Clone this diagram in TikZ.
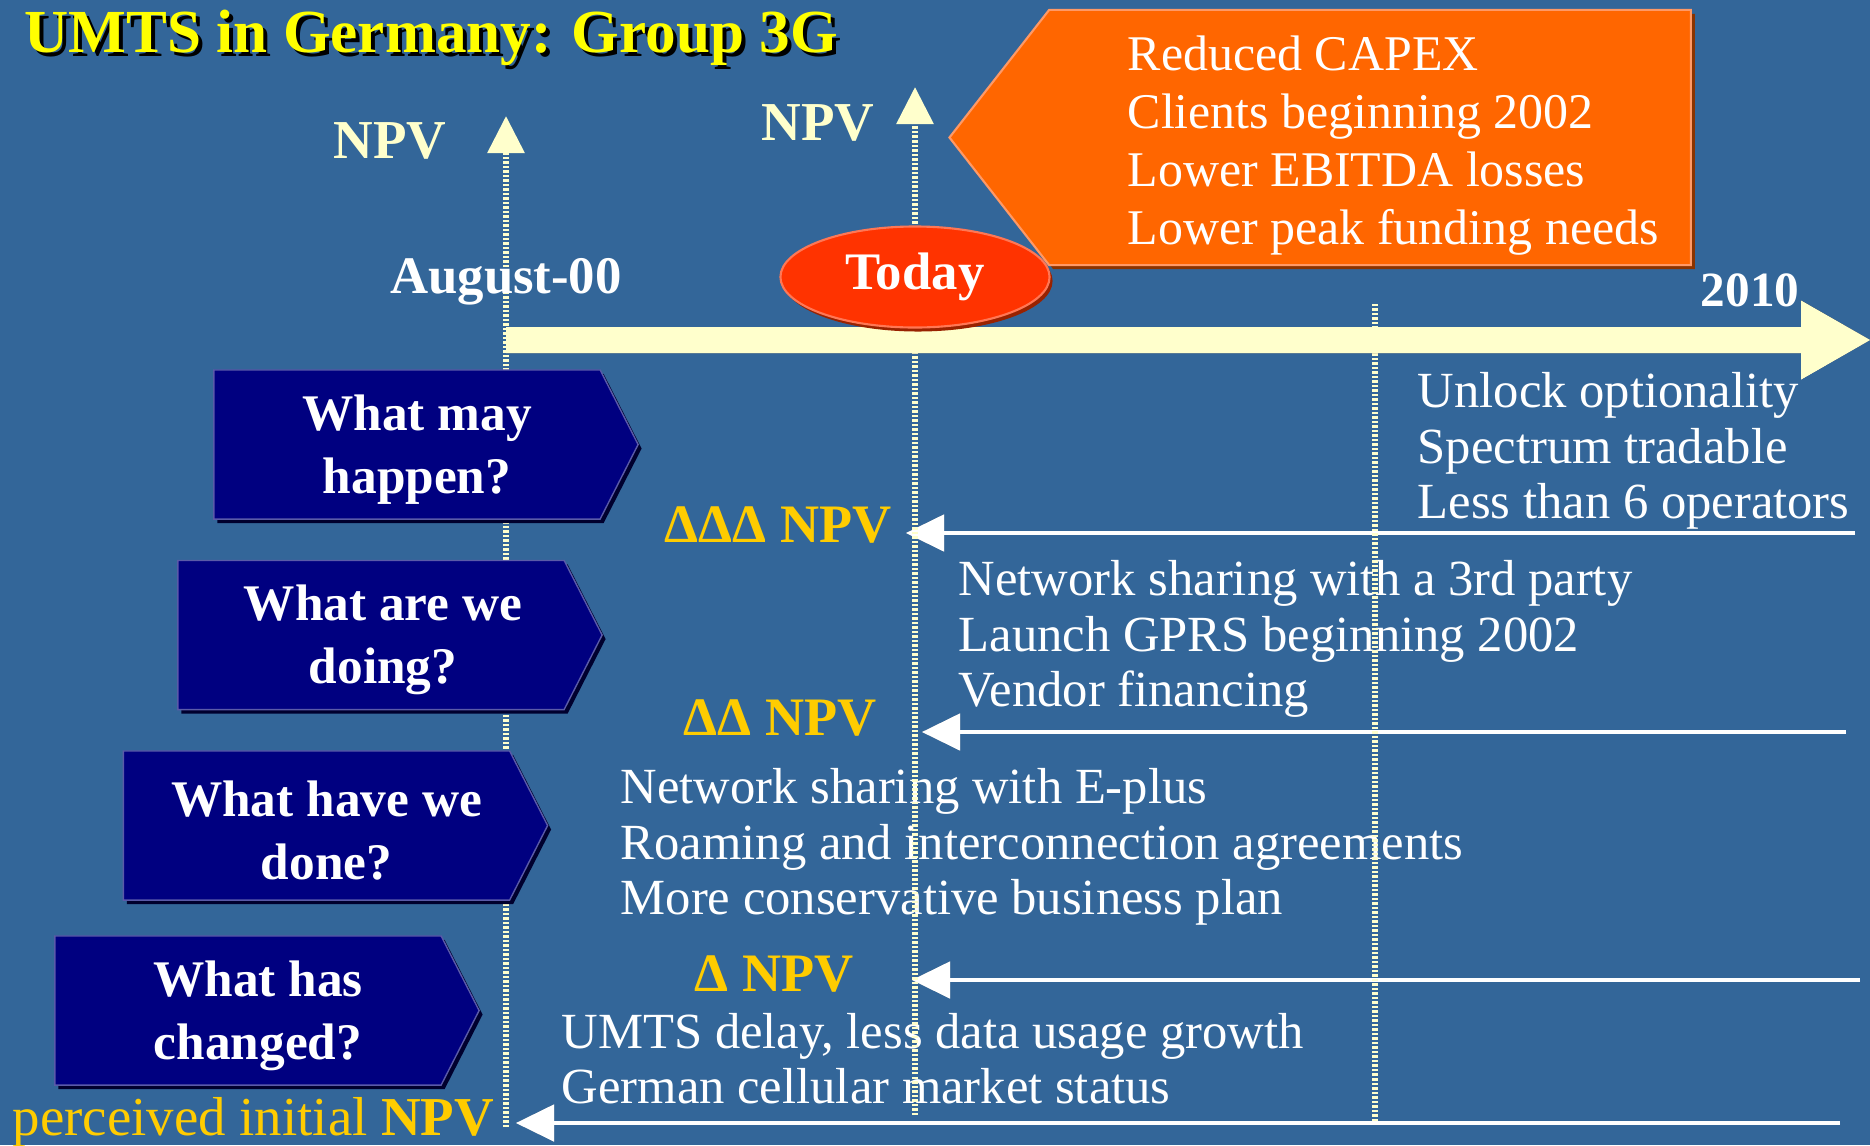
\documentclass[tikz,border=0pt]{standalone}
\usepackage{fontspec}
\setmainfont{Liberation Serif}
\usepackage{tikz}
\usetikzlibrary{calc,arrows.meta,positioning,shapes.geometric,shapes.symbols,shadows}
\definecolor{slide}{HTML}{336699}
\definecolor{cream}{HTML}{FFFFCC}
\definecolor{gold}{HTML}{FFCC00}
\definecolor{titley}{HTML}{FFFF00}
\definecolor{navy}{HTML}{000080}
\definecolor{navyd}{HTML}{00002E}
\definecolor{navyl}{HTML}{5A5AA8}
\definecolor{orng}{HTML}{FF6600}
\definecolor{orngd}{HTML}{8A3300}
\definecolor{orngl}{HTML}{FF9966}
\definecolor{todayc}{HTML}{FF3300}
\definecolor{todayd}{HTML}{992200}
\definecolor{todayl}{HTML}{FF7755}
\definecolor{shade}{HTML}{9A9A9A}
\tikzset{
  wtxt/.style={text=white,align=left,inner sep=0pt,font=\fontsize{14.4}{15.7}\selectfont},
  npvlab/.style={text=cream,inner sep=0pt,font=\fontsize{15.6}{18}\selectfont\bfseries},
  dlab/.style={text=gold,inner sep=0pt,font=\fontsize{15.4}{18}\selectfont\bfseries},
  qbox/.style={shape=signal,signal to=east,signal pointer angle=126,fill=navy,draw=navyl,line width=0.4pt,
    minimum width=4.24cm,minimum height=1.49cm,inner sep=0pt,
    drop shadow={shadow xshift=0.035cm,shadow yshift=-0.04cm,fill=navyd,opacity=1}},
  qtxt/.style={text=white,align=center,inner sep=0pt,font=\fontsize{14.6}{17.9}\selectfont\bfseries},
  dotln/.style={draw=cream,line width=0.06cm,dash pattern=on 0.025cm off 0.02cm},
  npvax/.style={dotln,-{Triangle[length=0.37cm,width=0.36cm,fill=cream]}},
  back/.style={-{Triangle[length=0.38cm,width=0.36cm]},draw=white,fill=white,line width=0.045cm},
  backsh/.style={back,draw=shade,fill=shade,shift={(3,4)}}
}

\begin{document}
\begin{tikzpicture}[x=0.01cm,y=-0.01cm]
\useasboundingbox (0,0) rectangle (1870,1145);
\fill[slide] (0,0) rectangle (1870,1145);
\node[anchor=base west,text=black,inner sep=0pt,font=\fontsize{17.4}{20}\selectfont\bfseries] (titlesh) at (28,56) {UMTS in Germany: Group 3G};
\node[anchor=base west,text=titley,inner sep=0pt,font=\fontsize{17.4}{20}\selectfont\bfseries] (title) at (24,52) {UMTS in Germany: Group 3G};

\node[wtxt,anchor=west] (unlock) at (1417,451) {Unlock optionality\\Spectrum tradable\\Less than 6 operators};
\node[wtxt,anchor=west] (doing) at (958,639) {Network sharing with a 3rd party\\Launch GPRS beginning 2002\\Vendor financing};
\node[wtxt,anchor=west] (done) at (620,847) {Network sharing with E-plus\\Roaming and interconnection agreements\\More conservative business plan};
\node[wtxt,anchor=west] (changed) at (561,1059) {UMTS delay, less data usage growth\\German cellular market status};

\coordinate (d3r) at (1855,533);
\coordinate (d3l) at (906,533);
\coordinate (d2r) at (1846,732);
\coordinate (d2l) at (922,732);
\coordinate (d1r) at (1860,980);
\coordinate (d1l) at (912,980);
\coordinate (d0r) at (1840,1123);
\coordinate (d0l) at (516,1123);
\foreach \a in {d3,d2,d1,d0}{
  \draw[backsh] (\a r) -- (\a l);
  \draw[back] (\a r) -- (\a l);
}

\coordinate (aug0) at (506,1127);
\coordinate (aug1) at (506,116);
\coordinate (now0) at (915,1115);
\coordinate (now1) at (915,87);
\coordinate (end0) at (1375,1121);
\coordinate (end1) at (1375,304);
\draw[npvax] (aug0) -- (aug1);
\draw[npvax] (now0) -- (now1);
\draw[dotln] (end0) -- (end1);

\coordinate (t0) at (506,340);
\coordinate (t1) at (1801,340);
\coordinate (t2) at (1870,340);
\fill[shade,shift={(3,3)}] ($(t0)+(0,-13)$) -- ($(t1)+(0,-13)$) -- ($(t1)+(0,-39.5)$) -- (t2) -- ($(t1)+(0,39.5)$) -- ($(t1)+(0,13)$) -- ($(t0)+(0,13)$) -- cycle;
\fill[cream] ($(t0)+(0,-13)$) -- ($(t1)+(0,-13)$) -- ($(t1)+(0,-39.5)$) -- (t2) -- ($(t1)+(0,39.5)$) -- ($(t1)+(0,13)$) -- ($(t0)+(0,13)$) -- cycle;

\node[ellipse,fill=todayc,draw=todayl,line width=0.6pt,minimum width=2.69cm,minimum height=0.93cm,
  drop shadow={shadow xshift=0.03cm,shadow yshift=-0.04cm,fill=todayd,opacity=1},
  text=white,font=\fontsize{15}{18}\selectfont\bfseries] (today) at (915,277) {Today};

\node[qbox] (may) at (407,444.5) {};
\node[qbox] (are) at (371,635) {};
\node[qbox] (have) at (316.5,825.5) {};
\node[qbox] (has) at (248,1010.5) {};
\node[qtxt] (maytxt) at ($(may)+(10,5)$) {What may\\happen?};
\node[qtxt] (aretxt) at ($(are)+(12,5)$) {What are we\\doing?};
\node[qtxt] (havetxt) at ($(have)+(10,5)$) {What have we\\done?};
\node[qtxt] (hastxt) at ($(has)+(10,5)$) {What has\\changed?};

\node[shape=signal,signal to=west,signal pointer angle=104,fill=orng,draw=orngl,line width=0.6pt,
  minimum width=7.41cm,minimum height=2.55cm,
  drop shadow={shadow xshift=0.04cm,shadow yshift=-0.04cm,fill=orngd,opacity=1}] (gain) at (1370,137.5) {};
\node[text=white,align=left,inner sep=0pt,anchor=west,font=\fontsize{14.2}{16.5}\selectfont] (gaintxt) at (1127,146)
  {Reduced CAPEX\\Clients beginning 2002\\Lower EBITDA losses\\Lower peak funding needs};

\node[npvlab] (npva) at (390,141) {NPV};
\node[npvlab] (npvb) at (818,123) {NPV};
\node[text=white,inner sep=0pt,font=\fontsize{15}{18}\selectfont\bfseries] (aug) at (506,282) {August-00};
\node[text=white,inner sep=0pt,font=\fontsize{14}{18}\selectfont\bfseries] (y2010) at (1750,290) {2010};

\node[dlab,anchor=east] (ddd) at (892,525) {ΔΔΔ NPV};
\node[dlab,anchor=east] (dd) at (877,718) {ΔΔ NPV};
\node[dlab,anchor=east] (d) at (854,974) {Δ NPV};
\node[text=gold,inner sep=0pt,anchor=west,font=\fontsize{15.6}{18}\selectfont] (init) at (12,1122) {perceived initial \textbf{NPV}};
\end{tikzpicture}
\end{document}
